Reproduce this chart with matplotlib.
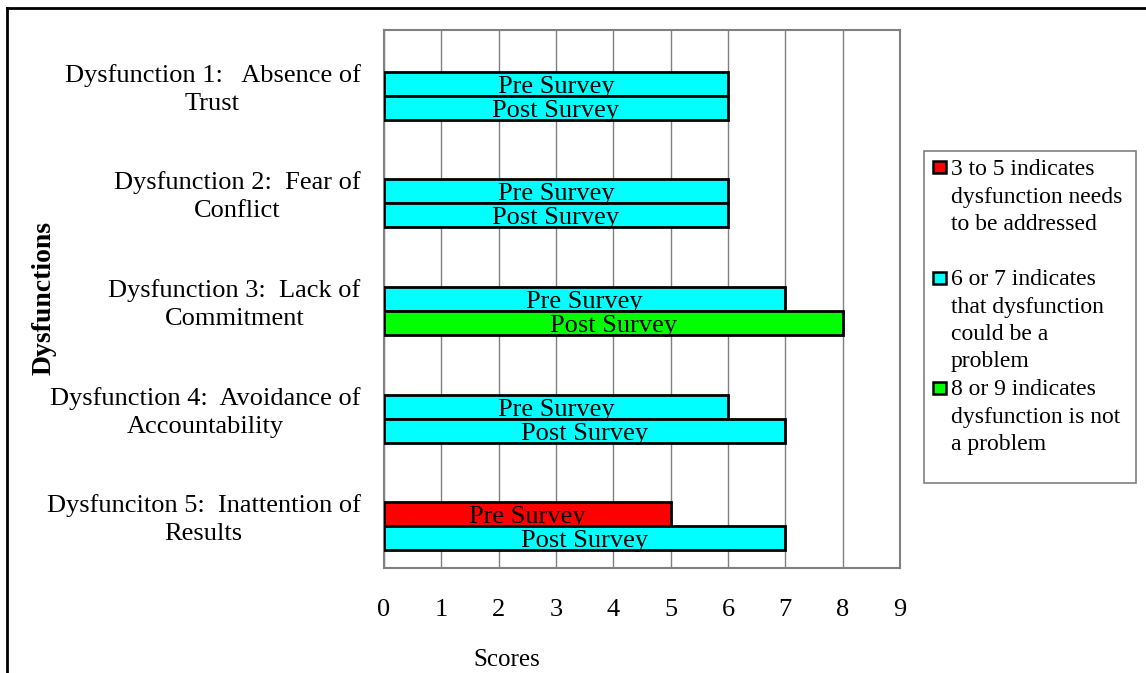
import numpy as np
import matplotlib
matplotlib.use("Agg")
import matplotlib.pyplot as plt
from matplotlib.lines import Line2D
from matplotlib.patches import Rectangle

plt.rcParams['font.family'] = ['Liberation Serif', 'DejaVu Serif']

# data
categories = ["Dysfunction 1:   Absence of\nTrust",
              "Dysfunction 2:  Fear of\nConflict",
              "Dysfunction 3:  Lack of\nCommitment",
              "Dysfunction 4:  Avoidance of\nAccountability",
              "Dysfunciton 5:  Inattention of\nResults"]
pre_scores = [6, 6, 7, 6, 5]
post_scores = [6, 6, 8, 7, 7]
legend_colors = ["#FF0000", "#00FFFF", "#00FF00"]
legend_lines = [["3 to 5 indicates", "dysfunction needs", "to be addressed"],
                ["6 or 7 indicates", "that dysfunction", "could be a", "problem"],
                ["8 or 9 indicates", "dysfunction is not", "a problem"]]

# colour by score band
def band_color(v):
    if v <= 5:
        return legend_colors[0]
    elif v <= 7:
        return legend_colors[1]
    return legend_colors[2]

W, H = 1146, 673
fig = plt.figure(figsize=(W / 100, H / 100), dpi=100)
ax = fig.add_axes([384 / W, 1 - 568 / H, (900 - 384) / W, (568 - 30) / H])

y = np.arange(len(categories))
bh = 0.223
off = 0.028  # baseline a few px above bar bottom
for i in range(len(categories)):
    ax.barh(y[i], pre_scores[i], height=bh, color=band_color(pre_scores[i]),
            edgecolor="black", linewidth=2, zorder=3)
    ax.barh(y[i] + bh, post_scores[i], height=bh, color=band_color(post_scores[i]),
            edgecolor="black", linewidth=2, zorder=3)
    ax.text(pre_scores[i] / 2, y[i] + bh / 2 - off, "Pre Survey", ha="center",
            va="baseline", fontsize=19, zorder=4)
    ax.text(post_scores[i] / 2, y[i] + 1.5 * bh - off, "Post Survey", ha="center",
            va="baseline", fontsize=19, zorder=4)

ax.set_xlim(0, 9)
ax.set_ylim(4.5, -0.5)
ax.set_xticks(range(10))
ax.set_xticklabels([str(i) for i in range(10)], fontsize=19)
ax.set_yticks(y)
ax.set_yticklabels(categories, fontsize=19)
for lbl in ax.get_yticklabels():
    lbl.set_multialignment("center")
    lbl.set_linespacing(1.35)
ax.tick_params(axis="both", length=0)
ax.tick_params(axis="y", pad=17)
ax.tick_params(axis="x", pad=22)
ax.grid(axis="x", color="#808080", linewidth=1, zorder=0)
for s in ax.spines.values():
    s.set_color("#808080")
    s.set_linewidth(1.5)

fig.text(507 / W, 1 - 660 / H, "Scores", ha="center", va="center", fontsize=18)
fig.text(44 / W, 1 - 298 / H, "Dysfunctions", ha="center", va="center", rotation=90,
         fontsize=20, fontweight="bold")

# legend drawn by hand
fig.add_artist(Rectangle((924 / W, 1 - 483 / H), (1136 - 924) / W, (483 - 151) / H,
                         facecolor="white", edgecolor="#808080", linewidth=1.2))
group_base = [175, 285, 395]
group_sq = [161, 272, 382]
for g in range(3):
    fig.add_artist(Rectangle((933 / W, 1 - (group_sq[g] + 12) / H), 13 / W, 12 / H,
                             facecolor=legend_colors[g], edgecolor="black", linewidth=1.8))
    for k, line in enumerate(legend_lines[g]):
        fig.text(951 / W, 1 - (group_base[g] + 27.5 * k) / H, line, ha="left",
                 va="baseline", fontsize=17)

# outer frame
fig.add_artist(Line2D([7 / W, 7 / W], [0, 1 - 8 / H], color="black", linewidth=2))
fig.add_artist(Line2D([7 / W, 1], [1 - 8 / H, 1 - 8 / H], color="black", linewidth=2))

fig.savefig("out.png", dpi=100)
